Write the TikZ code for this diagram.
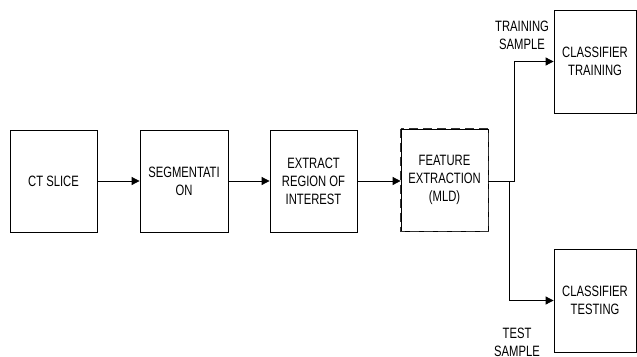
\documentclass[tikz,border=0pt]{standalone}
\usepackage{fontspec}
\newfontfamily\nar[FakeStretch=0.75]{Liberation Sans}
\usetikzlibrary{arrows.meta}
\begin{document}
\begin{tikzpicture}[x=1pt,y=-1pt,
  box/.style={draw=black, line width=0.8pt, rectangle, inner sep=0pt, align=center,
    font=\nar\fontsize{15}{18}\selectfont},
  lbl/.style={align=center, inner sep=0pt, font=\nar\fontsize{15}{18}\selectfont},
  conn/.style={draw=black, line width=0.8pt},
  arr/.style={conn, -{Triangle[length=8pt,width=8pt]}}]
\useasboundingbox (0,0) rectangle (637,356);
\clip (0,0) rectangle (637,356);
\node[box, minimum width=87pt, minimum height=102pt] (ct) at (53.5,181) {CT SLICE};
\node[box, minimum width=88pt, minimum height=102pt] (seg) at (184,181) {SEGMENTATI\\ON};
\node[box, minimum width=87pt, minimum height=102pt] (ext) at (313.5,181) {EXTRACT\\REGION OF\\INTEREST};
\node[box, minimum width=87pt, minimum height=102pt] (feat) at (444.5,180) {FEATURE\\EXTRACTION\\(MLD)};
\draw[black!80, line width=1.1pt, dash pattern=on 9pt off 5pt] (feat.north west) rectangle (feat.south east);
\node[box, minimum width=82pt, minimum height=103pt] (train) at (595,61.5) {CLASSIFIER\\TRAINING};
\node[box, minimum width=82pt, minimum height=103pt] (test) at (595,300.5) {CLASSIFIER\\TESTING};
\node[lbl] (ltrain) at (522,35) {TRAINING\\SAMPLE};
\node[lbl] (ltest) at (517,342) {TEST\\SAMPLE};
\coordinate (j1) at (514,181);
\coordinate (j2) at (509,181);
\draw[arr] (ct.east) -- (seg.west);
\draw[arr] (seg.east) -- (ext.west);
\draw[arr] (ext.east) -- (ext.east -| feat.west);
\draw[arr] (feat.east |- j1) -- (j1) |- (train.west);
\draw[arr] (j2) |- (test.west);
\end{tikzpicture}
\end{document}
